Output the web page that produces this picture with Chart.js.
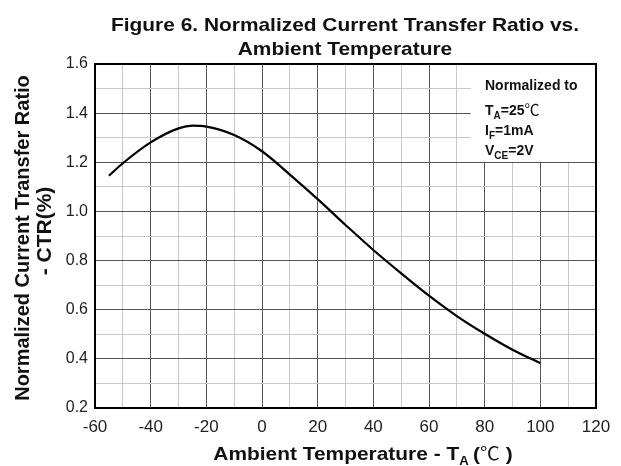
<!DOCTYPE html>
<html>
<head>
<meta charset="utf-8">
<script src="https://cdn.jsdelivr.net/npm/chart.js@4.4.0/dist/chart.umd.min.js"></script>
<style>
  html, body { margin: 0; padding: 0; background: #fff; }
  #wrap { width: 621px; height: 466px; }
</style>
</head>
<body>
<div id="wrap"><canvas id="chart"></canvas></div>
<script>
// values
const temps = [-55, -50, -40, -30, -25, -20, -10, 0, 10, 20, 30, 40, 50, 60, 70, 80, 90, 100];
const ctrValues = [1.145, 1.196, 1.281, 1.338, 1.349, 1.345, 1.311, 1.245, 1.150, 1.050, 0.945, 0.843, 0.748, 0.657, 0.574, 0.502, 0.437, 0.382];
const xTicks = [-60, -40, -20, 0, 20, 40, 60, 80, 100, 120];
const yTicks = [0.2, 0.4, 0.6, 0.8, 1.0, 1.2, 1.4, 1.6];
const titleLines = ["Figure 6. Normalized Current Transfer Ratio vs.", "Ambient Temperature"];
const yTitleLines = ["Normalized Current Transfer Ratio", "- CTR(%)"];
const noteLines = [
    { main: "Normalized to" },
    { main: "T", sub: "A", rest: "=25", unit: "\u2103" },
    { main: "I", sub: "F", rest: "=1mA" },
    { main: "V", sub: "CE", rest: "=2V" },
];

const FONT = "'Liberation Sans', Arial, sans-serif";
const STRETCH = 1.1; // source picture is a bit wider than tall

// draws text pieces with subscripts, returns end x
function drawParts(ctx, parts, x, y) {
    parts.forEach((p) => {
        ctx.font = p.font;
        ctx.fillText(p.text, x, y + (p.dy || 0));
        x += ctx.measureText(p.text).width + (p.gap || 0);
    });
    return x;
}

function partsWidth(ctx, parts) {
    return parts.reduce((w, p) => {
        ctx.font = p.font;
        return w + ctx.measureText(p.text).width + (p.gap || 0);
    }, 0);
}

const decorPlugin = {
    id: "decor",
    beforeDatasetsDraw(chart) {
        const { ctx, chartArea, scales } = chart;
        // white note box over the grid, top right corner
        const bx = scales.x.getPixelForValue(75);
        const by = scales.y.getPixelForValue(1.2);
        ctx.save();
        ctx.fillStyle = "#fff";
        ctx.fillRect(bx, chartArea.top, chartArea.right - bx, by - chartArea.top - 0.5);
        ctx.restore();
    },
    afterDraw(chart) {
        const { ctx, chartArea } = chart;
        ctx.save();
        // frame
        ctx.strokeStyle = "#000";
        ctx.lineWidth = 2;
        ctx.strokeRect(chartArea.left, chartArea.top, chartArea.right - chartArea.left, chartArea.bottom - chartArea.top);

        ctx.fillStyle = "#111";
        ctx.textBaseline = "alphabetic";

        // chart title
        ctx.save();
        ctx.translate(345, 0);
        ctx.scale(STRETCH, 1);
        ctx.textAlign = "center";
        ctx.font = "bold 19px " + FONT;
        ctx.fillText(titleLines[0], 0, 31);
        ctx.fillText(titleLines[1], 0, 55);
        ctx.restore();

        // note text
        ctx.textAlign = "left";
        const bold = "bold 14px " + FONT;
        const subF = "bold 10px " + FONT;
        const ys = [90, 115, 135, 155];
        noteLines.forEach((ln, i) => {
            const parts = [{ text: ln.main, font: bold }];
            if (ln.sub) parts.push({ text: ln.sub, font: subF, dy: 4 });
            if (ln.rest) parts.push({ text: ln.rest, font: bold });
            if (ln.unit) parts.push({ text: ln.unit, font: "15px 'Noto Sans CJK SC', serif" });
            drawParts(ctx, parts, 485, ys[i]);
        });

        // x axis title with subscript
        const xt = [
            { text: "Ambient Temperature - T", font: "bold 19px " + FONT },
            { text: "A", font: "bold 12px " + FONT, dy: 5, gap: 4 },
            { text: "(", font: "bold 19px " + FONT },
            { text: "\u2103", font: "18px 'Noto Sans CJK SC', serif" },
            { text: " )", font: "bold 19px " + FONT },
        ];
        ctx.save();
        ctx.translate(363, 0);
        ctx.scale(STRETCH, 1);
        const w = partsWidth(ctx, xt);
        drawParts(ctx, xt, -w / 2, 460);
        ctx.restore();

        // y axis title, two lines
        ctx.save();
        ctx.rotate(-Math.PI / 2);
        ctx.textAlign = "center";
        ctx.font = "bold 20px " + FONT;
        ctx.fillText(yTitleLines[0], -238, 29);
        ctx.font = "bold 21px " + FONT;
        ctx.fillText(yTitleLines[1], -231, 51);
        ctx.restore();
        ctx.restore();
    },
};

new Chart(document.getElementById("chart"), {
    type: "line",
    data: {
        labels: temps,
        datasets: [{
            data: temps.map((t, i) => ({ x: t, y: ctrValues[i] })),
            borderColor: "#000",
            borderWidth: 2.2,
            pointRadius: 0,
            fill: false,
            cubicInterpolationMode: "monotone",
        }],
    },
    options: {
        responsive: true,
        maintainAspectRatio: false,
        animation: false,
        layout: { padding: { left: 0, right: 25, top: 64, bottom: 0 } },
        plugins: {
            legend: { display: false },
            tooltip: { enabled: false },
            title: { display: false },
        },
        scales: {
            x: {
                type: "linear",
                min: -60,
                max: 120,
                afterFit: (s) => { s.height = 58; },
                ticks: {
                    stepSize: 10,
                    autoSkip: false,
                    maxRotation: 0,
                    padding: 9,
                    color: "#222",
                    font: { family: FONT, size: 17 },
                    callback: (v) => (xTicks.includes(v) ? String(v) : ""),
                },
                grid: {
                    drawTicks: false,
                    lineWidth: 1,
                    color: (c) => (c.tick && c.tick.value % 20 === 0 ? "#555" : "#c8c8c8"),
                },
                border: { display: false },
            },
            y: {
                min: 0.2,
                max: 1.6,
                afterFit: (s) => { s.width = 95; },
                ticks: {
                    stepSize: 0.1,
                    autoSkip: false,
                    padding: 7,
                    color: "#222",
                    font: { family: FONT, size: 16 },
                    callback: (v) => {
                        const r = Math.round(v * 10) / 10;
                        return yTicks.some((t) => Math.abs(t - r) < 1e-6) ? r.toFixed(1) : "";
                    },
                },
                grid: {
                    drawTicks: false,
                    lineWidth: 1,
                    color: (c) => (c.tick && Math.round(c.tick.value * 10) % 2 === 0 ? "#555" : "#c8c8c8"),
                },
                border: { display: false },
            },
        },
    },
    plugins: [decorPlugin],
});
</script>
</body>
</html>
